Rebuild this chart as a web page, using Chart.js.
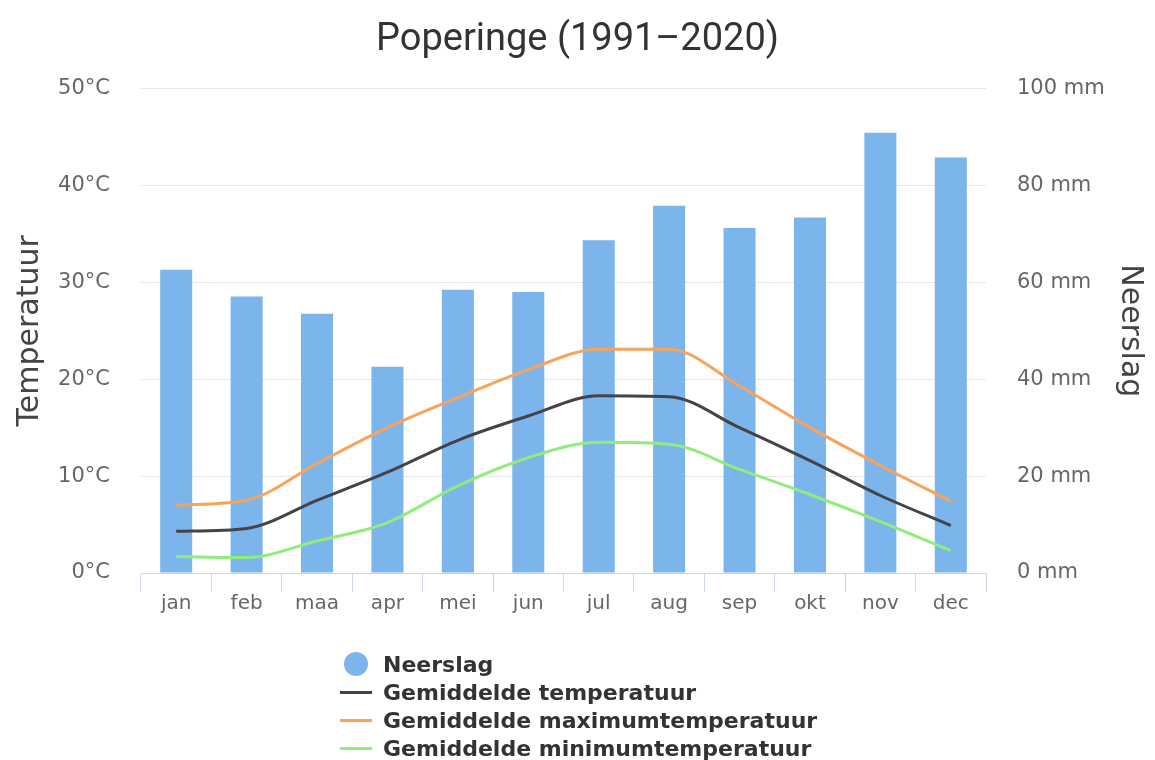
<!DOCTYPE html>
<html>
<head>
<meta charset="utf-8">
<title>Poperinge klimaat</title>
<script src="https://cdn.jsdelivr.net/npm/chart.js@4.4.0/dist/chart.umd.min.js"></script>
<style>
  body { margin: 0; background: #fff; }
  #wrap { position: relative; width: 1155px; height: 760px; }
  #legend {
    position: absolute; left: 340px; top: 650px;
    font: bold 22px "DejaVu Sans", sans-serif; color: #333;
  }
  #legend .item { height: 28px; display: flex; align-items: center; }
  #legend .mark { width: 32px; margin-right: 11px; display: flex; justify-content: center; align-items: center; }
  #legend .dot { width: 24px; height: 24px; border-radius: 50%; }
  #legend .line { width: 32px; height: 3px; }
</style>
</head>
<body>
<div id="wrap">
  <canvas id="klimaat" width="1155" height="760"></canvas>
  <div id="legend"></div>
</div>
<script>
const maanden = ['jan', 'feb', 'maa', 'apr', 'mei', 'jun', 'jul', 'aug', 'sep', 'okt', 'nov', 'dec'];
// neerslag in mm
const neerslag = [62.6, 57.1, 53.5, 42.6, 58.5, 58.0, 68.7, 75.8, 71.2, 73.4, 90.9, 85.8];
// temperaturen in °C
const gemTemp = [4.3, 4.6, 7.5, 10.4, 13.7, 16.2, 18.3, 18.2, 15.0, 11.6, 8.0, 4.9];
const maxTemp = [7.0, 7.5, 11.3, 15.0, 18.1, 21.0, 23.1, 23.1, 19.3, 15.0, 11.1, 7.4];
const minTemp = [1.7, 1.6, 3.3, 5.2, 9.0, 11.9, 13.5, 13.3, 10.7, 8.1, 5.3, 2.3];

const tickFont = { family: '"DejaVu Sans", sans-serif', size: 21 };
const tickColor = '#666';
const titelFont = { family: '"DejaVu Sans", sans-serif', size: 30 };

function lijn(label, data, kleur) {
  return {
    type: 'line',
    label: label,
    data: data,
    yAxisID: 'y',
    borderColor: kleur,
    backgroundColor: kleur,
    borderWidth: 3,
    pointRadius: 0,
    cubicInterpolationMode: 'monotone',
    order: 1
  };
}

const chart = new Chart(document.getElementById('klimaat'), {
  type: 'bar',
  data: {
    labels: maanden,
    datasets: [
      {
        label: 'Neerslag',
        data: neerslag,
        yAxisID: 'y1',
        backgroundColor: '#7cb5ec',
        barPercentage: 0.455,
        categoryPercentage: 1,
        order: 2
      },
      lijn('Gemiddelde temperatuur', gemTemp, '#434348'),
      lijn('Gemiddelde maximumtemperatuur', maxTemp, '#f7a35c'),
      lijn('Gemiddelde minimumtemperatuur', minTemp, '#90ed7d')
    ]
  },
  options: {
    responsive: false,
    animation: false,
    layout: { padding: 0 },
    plugins: {
      legend: { display: false },
      tooltip: { enabled: false },
      title: {
        display: true,
        text: 'Poperinge (1991–2020)',
        color: '#333',
        font: { family: 'Roboto, sans-serif', size: 38, weight: 'normal' },
        padding: { top: 18, bottom: 25 }
      }
    },
    scales: {
      x: {
        afterFit: (s) => { s.height = 187; },
        grid: { offset: true, drawOnChartArea: false, color: '#ccd6eb', tickLength: 19 },
        border: { color: '#ccd6eb' },
        ticks: { font: { family: '"DejaVu Sans", sans-serif', size: 20 }, color: tickColor, padding: 0, maxRotation: 0 }
      },
      y: {
        position: 'left',
        min: 0,
        max: 50,
        afterFit: (s) => { s.width = 141; },
        grid: { color: '#e6e6e6', drawTicks: false },
        border: { display: false },
        ticks: { stepSize: 10, padding: 31, font: tickFont, color: tickColor, callback: (v) => v + '°C' },
        title: {
          display: true,
          text: 'Temperatuur',
          color: '#444',
          font: titelFont,
          padding: { top: 12 }
        }
      },
      y1: {
        position: 'right',
        min: 0,
        max: 100,
        afterFit: (s) => { s.width = 169; },
        grid: { drawOnChartArea: false, drawTicks: false },
        border: { display: false },
        ticks: { stepSize: 20, padding: 31, font: tickFont, color: tickColor, callback: (v) => v + ' mm' },
        title: {
          display: true,
          text: 'Neerslag',
          color: '#444',
          font: titelFont,
          padding: { top: 7 }
        }
      }
    }
  }
});

// legenda onder de grafiek, één reeks per regel
const legend = document.getElementById('legend');
chart.data.datasets.forEach((ds) => {
  const item = document.createElement('div');
  item.className = 'item';
  const mark = document.createElement('span');
  mark.className = 'mark';
  const sym = document.createElement('span');
  sym.className = ds.type === 'line' ? 'line' : 'dot';
  sym.style.background = ds.type === 'line' ? ds.borderColor : ds.backgroundColor;
  mark.appendChild(sym);
  const txt = document.createElement('span');
  txt.textContent = ds.label;
  item.appendChild(mark);
  item.appendChild(txt);
  legend.appendChild(item);
});
</script>
</body>
</html>
